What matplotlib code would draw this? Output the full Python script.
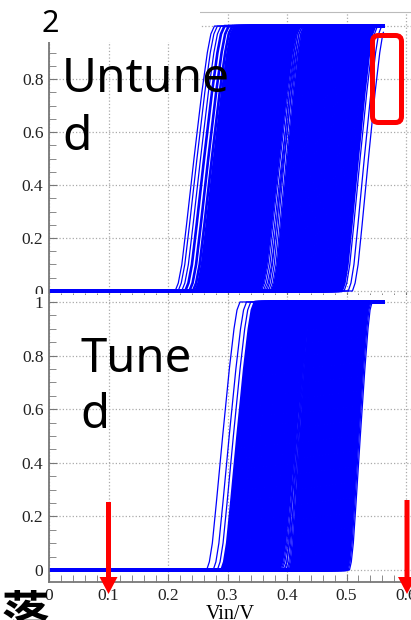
import numpy as np
import matplotlib
matplotlib.use('Agg')
import matplotlib.pyplot as plt
from matplotlib.patches import Rectangle, FancyBboxPatch, FancyArrow
from matplotlib.ticker import MultipleLocator, FuncFormatter

# Figure size in pixels
W, H = 411, 620
VMAX = 0.562  # end of the Vin sweep

# normalised shape of one switching edge (fraction of run vs output)
EDGE_Y = np.array([0, 0.03, 0.1, 0.25, 0.5, 0.75, 0.9, 0.97, 1.0])
EDGE_FX = np.array([0, 0.08, 0.17, 0.29, 0.48, 0.68, 0.82, 0.91, 1.0])

# Untuned: switching points (Vin where edge leaves 0) of the back / forward sweeps
untuned_fall = [0.212, 0.217, 0.223, 0.229, 0.236, 0.242,
                0.246, 0.249, 0.252, 0.255, 0.258, 0.261, 0.264, 0.267, 0.270, 0.273, 0.276, 0.279, 0.282, 0.285,
                0.288, 0.291, 0.294, 0.297, 0.300, 0.303, 0.306, 0.309, 0.312, 0.315, 0.318, 0.321, 0.324, 0.327,
                0.330, 0.333, 0.336, 0.339, 0.342, 0.345, 0.348, 0.351, 0.354, 0.357, 0.360, 0.363]
untuned_rise = [0.366, 0.369, 0.372, 0.375, 0.378, 0.381, 0.384, 0.387, 0.390, 0.393, 0.396, 0.399, 0.402, 0.405,
                0.408, 0.411, 0.414, 0.417, 0.420, 0.423, 0.426, 0.429, 0.432, 0.435, 0.438, 0.441, 0.444, 0.447,
                0.450, 0.453, 0.456, 0.459, 0.462, 0.465, 0.468, 0.471, 0.474, 0.477, 0.480, 0.483, 0.486, 0.489,
                0.492, 0.496, 0.503, 0.510]
untuned_run = (0.066, 0.056)  # horizontal run of fall / rise edges

# Tuned
tuned_fall = [0.265, 0.276, 0.283,
              0.290, 0.292, 0.295, 0.297, 0.300, 0.302, 0.305, 0.307, 0.310, 0.312, 0.315, 0.317, 0.320, 0.322,
              0.325, 0.327, 0.330, 0.332, 0.335, 0.337, 0.340, 0.342, 0.345, 0.347, 0.350, 0.352, 0.355, 0.357,
              0.360, 0.362, 0.365, 0.367, 0.370, 0.372, 0.375, 0.377, 0.380, 0.382, 0.385, 0.387, 0.390, 0.392, 0.395]
tuned_rise = [0.397, 0.400, 0.402, 0.405, 0.407, 0.410, 0.412, 0.415, 0.417, 0.420, 0.422, 0.425, 0.427, 0.430,
              0.432, 0.435, 0.437, 0.440, 0.442, 0.445, 0.447, 0.450, 0.452, 0.455, 0.457, 0.460, 0.462, 0.465,
              0.467, 0.470, 0.472, 0.475, 0.477, 0.480, 0.482, 0.485, 0.487, 0.490, 0.492, 0.495, 0.497,
              0.499, 0.500, 0.501, 0.503, 0.505]
tuned_run = (0.056, 0.038)

plt.rcParams['font.family'] = ['Liberation Serif']


def px_axes(fig, left, top, right, bottom):
    return fig.add_axes([left / W, 1 - bottom / H, (right - left) / W, (bottom - top) / H])


def draw_loops(ax, falls, rises, runs):
    fall_run, rise_run = runs
    n = len(falls)
    for i, (f, r) in enumerate(zip(falls, rises)):
        # outer curves stay thin, the dense core is drawn heavier
        lw = 0.9 if i < 3 or i > n - 4 else 1.9
        xr = r + rise_run * EDGE_FX
        keep = xr <= VMAX
        fx = [0.0] + list(xr[keep])
        fy = [0.0] + list(EDGE_Y[keep])
        fx.append(VMAX)
        fy.append(1.0 if keep.all() else np.interp(VMAX, xr, EDGE_Y))
        ax.plot(fx, fy, color='#0000ff', lw=lw)
        xf = f + fall_run * EDGE_FX
        bx = [VMAX] + list(xf[::-1]) + [0.0]
        by = [1.0] + list(EDGE_Y[::-1]) + [0.0]
        ax.plot(bx, by, color='#0000ff', lw=lw)


def style(ax):
    ax.set_xlim(0, (W - 49) / 595)
    ax.xaxis.set_major_locator(MultipleLocator(0.1))
    ax.xaxis.set_minor_locator(MultipleLocator(0.02))
    ax.yaxis.set_major_locator(MultipleLocator(0.2))
    ax.yaxis.set_minor_locator(MultipleLocator(0.05))
    fmt = FuncFormatter(lambda v, _: '%g' % round(v, 2))
    ax.xaxis.set_major_formatter(fmt)
    ax.yaxis.set_major_formatter(fmt)
    ax.set_axisbelow(True)
    ax.grid(True, which='major', color='#aaaaaa', linestyle=':', linewidth=0.9)
    ax.tick_params(which='both', direction='in', color='#777777', labelsize=12.5,
                   labelcolor='#222222', top=False, right=False)
    ax.tick_params(which='major', length=6, pad=4)
    ax.tick_params(which='minor', length=5)
    for s in ['left', 'bottom']:
        ax.spines[s].set_color('#777777')
        ax.spines[s].set_linewidth(1.3)
    ax.spines['right'].set_visible(False)


fig = plt.figure(figsize=(W / 100, H / 100), dpi=100)

ax_top = px_axes(fig, 49, 12, W, 300)
style(ax_top)
ax_top.set_ylim(-0.034, 1.053)
ax_top.tick_params(labelbottom=False)
ax_top.spines['top'].set_color('#bbbbbb')
draw_loops(ax_top, untuned_fall, untuned_rise, untuned_run)
ax_top.set_zorder(1)

# the lower panel sits over the foot of the upper one, hiding its "0" label
fig.add_artist(Rectangle((0, 1 - 302 / H), 49 / W, 8 / H, transform=fig.transFigure,
                         facecolor='white', edgecolor='none', zorder=1.5))

ax_bot = px_axes(fig, 49, 295, W, 582)
style(ax_bot)
ax_bot.set_ylim(-0.045, 1.026)
ax_bot.spines['top'].set_visible(False)
ax_bot.set_xlabel('Vin/V', fontsize=14.5, labelpad=1)
draw_loops(ax_bot, tuned_fall, tuned_rise, tuned_run)
ax_bot.set_zorder(2)

# overlay in pixel coordinates for annotations
ov = fig.add_axes([0, 0, 1, 1])
ov.set_xlim(0, W)
ov.set_ylim(H, 0)
ov.axis('off')
ov.set_zorder(3)

ov.add_patch(Rectangle((0, 0), 200, 42, facecolor='white', edgecolor='none', zorder=1))
sans = ['Noto Sans', 'DejaVu Sans']
ov.text(41, 32, '2', fontsize=22, family=sans, va='baseline', zorder=3)
ov.text(62, 92, 'Untune', fontsize=34.5, family=sans, va='baseline', zorder=3)
ov.text(62, 150, 'd', fontsize=34.5, family=sans, va='baseline', zorder=3)
ov.text(80, 372, 'Tune', fontsize=34, family=sans, va='baseline', zorder=3)
ov.text(80, 428, 'd', fontsize=34, family=sans, va='baseline', zorder=3)
ov.text(2, 592, '落', fontsize=34, family=['Noto Sans CJK SC', 'DejaVu Sans'],
        fontweight='bold', va='top', zorder=3)

ov.add_patch(FancyBboxPatch((372.5, 35.5), 29, 87, boxstyle='round,pad=0,rounding_size=6',
                            facecolor='none', edgecolor='#ff0000', lw=3.6, zorder=4))
for ax_x, y0 in [(108.5, 502), (407, 500)]:
    ov.add_patch(FancyArrow(ax_x, y0, 0, 594 - y0, width=5, head_width=18, head_length=17,
                            length_includes_head=True, color='#ff0000', lw=0, zorder=4))

fig.savefig('out.png', dpi=100)
